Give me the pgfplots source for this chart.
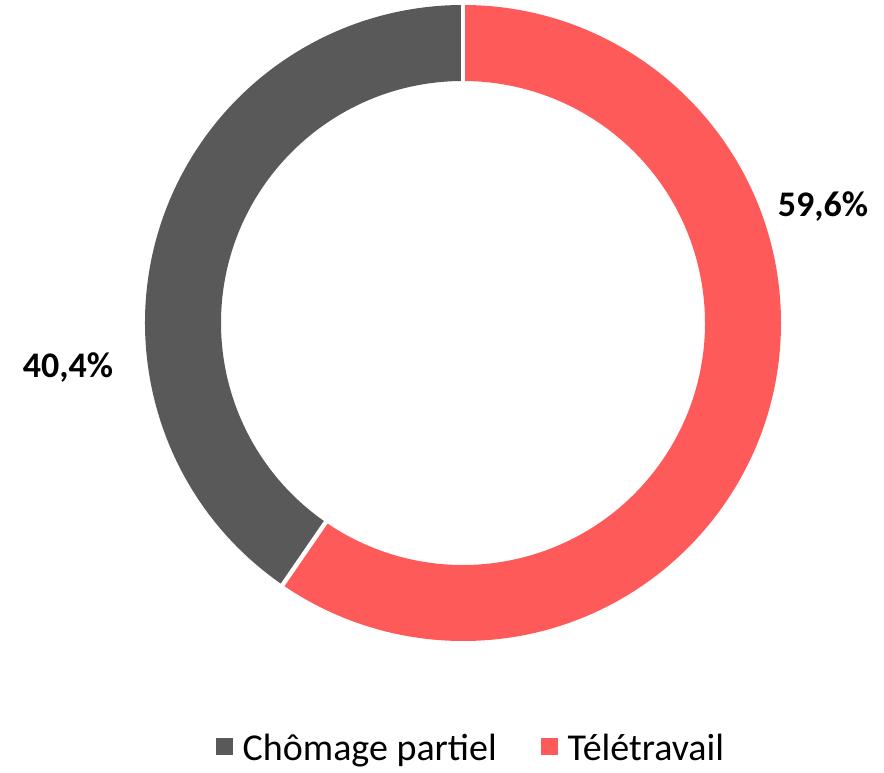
\documentclass[border=0pt]{standalone}
\usepackage{fontspec}
\setmainfont{Carlito}
\usepackage{pgfplots}
\usepackage{pgfplotstable}
\pgfplotsset{compat=1.18}
\usetikzlibrary{calc}
\definecolor{cgray}{HTML}{595959}
\definecolor{cred}{HTML}{FF5A5A}

\pgfplotstableread{
label value
Chomage 40.4
Teletravail 59.6
}\shares

\begin{document}
\begin{tikzpicture}
\pgfplotstablegetelem{0}{value}\of\shares \let\vgray\pgfplotsretval
\pgfplotstablegetelem{1}{value}\of\shares \let\vred\pgfplotsretval
\pgfmathsetmacro{\split}{90-3.6*\vred}
\begin{axis}[
  x=0.5pt,y=0.5pt,
  xmin=0,xmax=884,ymin=-772,ymax=0,
  hide axis,scale only axis,clip=false,
  legend style={at={(axis cs:472,-749)},anchor=center,draw=none,
    legend columns=2,font=\fontsize{19}{21}\selectfont,
    /tikz/every odd column/.append style={column sep=3pt},
    /tikz/every even column/.append style={column sep=20pt}},
  legend image code/.code={\fill[#1] (0pt,-2.5pt) rectangle (8pt,5.5pt);},
]
\addlegendimage{cgray}
\addlegendentry{Chômage partiel}
\addlegendimage{cred}
\addlegendentry{Télétravail}
% cadre de la figure
\path (rel axis cs:0,0) rectangle (rel axis cs:1,1);
% anneau : rayon ext. 159pt, int. 121pt
\fill[cred,overlay] (axis cs:463,-323) ++(90:159pt) arc[start angle=90,end angle=\split,radius=159pt]
  -- ($(axis cs:463,-323)+(\split:121pt)$) arc[start angle=\split,end angle=90,radius=121pt] -- cycle;
\fill[cgray,overlay] (axis cs:463,-323) ++(\split:159pt) arc[start angle=\split,end angle=-270,radius=159pt]
  -- ($(axis cs:463,-323)+(-270:121pt)$) arc[start angle=-270,end angle=\split,radius=121pt] -- cycle;
\draw[white,line width=2.2pt,overlay] (axis cs:463,-323) ++(90:119pt) -- ++(90:42pt);
\draw[white,line width=2.2pt,overlay] (axis cs:463,-323) ++(\split:119pt) -- ++(\split:42pt);
\node[font=\bfseries\fontsize{18}{20}\selectfont] at (axis cs:823,-207) {\pgfmathprintnumber[fixed,fixed zerofill,precision=1,use comma,assume math mode=true]{\vred}\%};
\node[font=\bfseries\fontsize{18}{20}\selectfont] at (axis cs:68,-368) {\pgfmathprintnumber[fixed,fixed zerofill,precision=1,use comma,assume math mode=true]{\vgray}\%};
\end{axis}
\end{tikzpicture}
\end{document}
